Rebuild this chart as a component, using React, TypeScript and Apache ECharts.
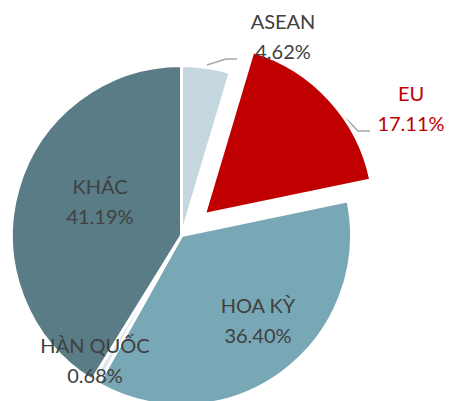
import React, { useEffect, useRef } from "react";
import * as echarts from "echarts";

const categories = ["ASEAN", "EU", "HOA KỲ", "HÀN QUỐC", "KHÁC"];
const shares = [4.62, 17.11, 36.4, 0.68, 41.19];
const exploded = [false, true, false, false, false];

const sliceColors = ["#C5D7DE", "#C00000", "#78A7B6", "#DDE7EB", "#597C86"];
const textColors = ["#404040", "#C00000", "#404040", "#404040", "#404040"];

// label placement (chart pixel coordinates)
const labelPos: Record<number, { x: number; y: number; line?: number[][] }> = {
  0: { x: 283, y: 36, line: [[207, 65], [226, 59], [237, 59]] },
  1: { x: 411, y: 108, line: [[328, 100], [358, 131], [370, 131]] },
  2: { x: 258, y: 320 },
  3: { x: 95, y: 360 },
  4: { x: 100, y: 201 },
};

const CENTER = [181.5, 235.5];
const RADIUS = 170;
const EXPLODE = 31;

export default function App() {
  const ref = useRef<HTMLDivElement>(null);
  useEffect(() => {
    if (!ref.current) return;
    const chart = echarts.init(ref.current, undefined, { renderer: "svg" });
    const total = shares.reduce((a, b) => a + b, 0);

    const makeSeries = (explodedLayer: boolean) => {
      // offset of the exploded slice along its bisector
      let cx = CENTER[0];
      let cy = CENTER[1];
      if (explodedLayer) {
        const idx = exploded.indexOf(true);
        const before = shares.slice(0, idx).reduce((a, b) => a + b, 0);
        const mid = ((before + shares[idx] / 2) / total) * Math.PI * 2;
        cx += EXPLODE * Math.sin(mid);
        cy -= EXPLODE * Math.cos(mid);
      }
      const data = categories.map((name, i) => {
        const visible = exploded[i] === explodedLayer;
        return {
          name,
          value: shares[i],
          itemStyle: visible
            ? { color: sliceColors[i], borderColor: "#FFFFFF", borderWidth: 3 }
            : { color: "rgba(0,0,0,0)", borderWidth: 0 },
          label: { show: visible, color: textColors[i] },
          labelLine: { show: visible && !!labelPos[i].line },
        };
      });
      return {
        type: "pie",
        center: [cx, cy],
        radius: RADIUS,
        startAngle: 90,
        clockwise: true,
        avoidLabelOverlap: false,
        silent: true,
        emphasis: { disabled: true },
        label: {
          position: "outside",
          fontFamily: "Lato",
          fontSize: 20,
          lineHeight: 30,
          align: "center",
          formatter: (p: any) => `${p.name}\n${Number(p.value).toFixed(2)}%`,
        },
        labelLine: {
          lineStyle: { color: "#A6A6A6", width: 1.5 },
        },
        labelLayout: (params: any) => {
          const lp = labelPos[params.dataIndex];
          const res: any = {
            x: lp.x,
            y: lp.y,
            align: "center",
            verticalAlign: "middle",
          };
          if (lp.line) res.labelLinePoints = lp.line;
          return res;
        },
        data,
      };
    };

    chart.setOption({
      animation: false,
      backgroundColor: "#FFFFFF",
      series: [makeSeries(false), makeSeries(true)],
    });
    return () => chart.dispose();
  }, []);
  return (
    <div
      ref={ref}
      style={{ position: "fixed", left: 0, top: 0, width: 451, height: 401 }}
    />
  );
}
